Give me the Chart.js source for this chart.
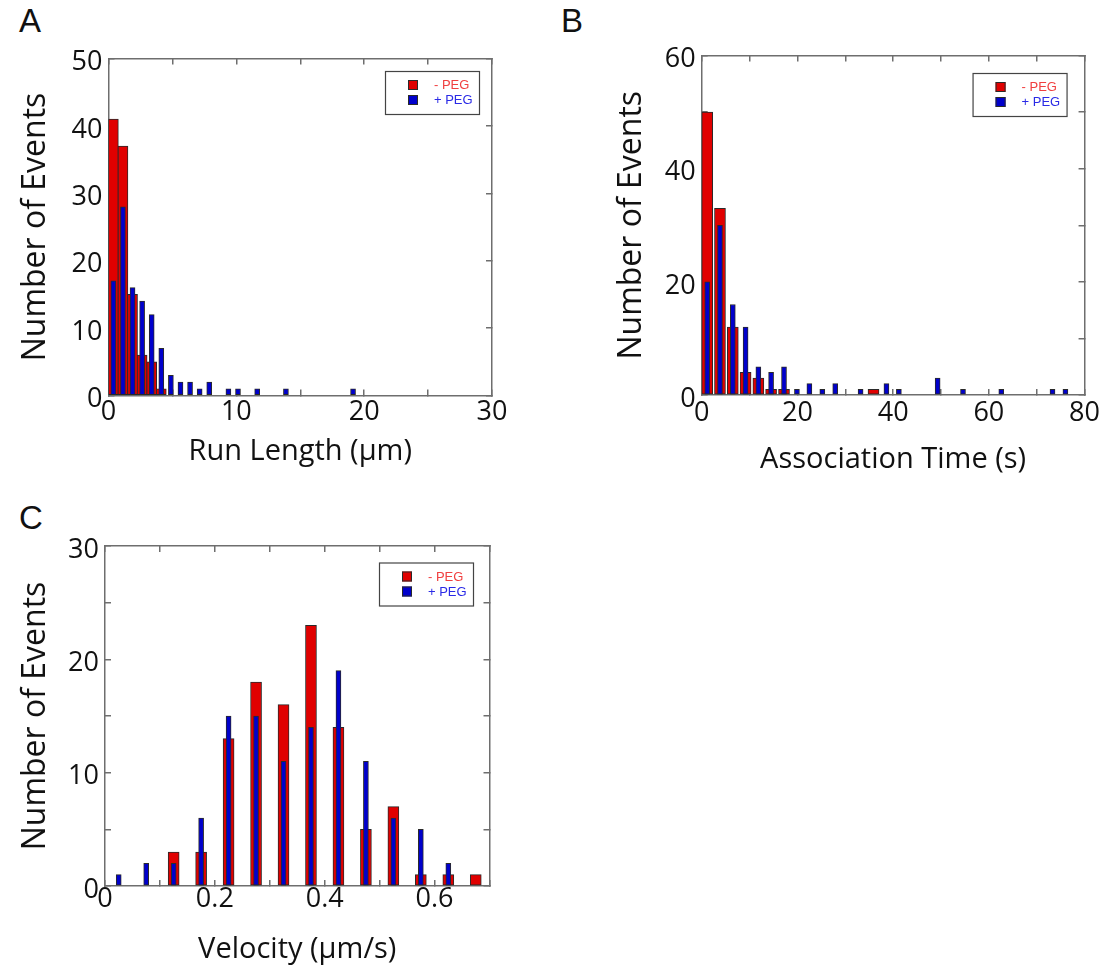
<!DOCTYPE html>
<html>
<head>
<meta charset="utf-8">
<script src="https://cdn.jsdelivr.net/npm/chart.js@4.4.1/dist/chart.umd.min.js"></script>
<style>
  body { margin: 0; background: #fff; }
  #wrap { position: relative; width: 1108px; height: 971px; }
  canvas { position: absolute; }
  .panel { position: absolute; font-family: "Liberation Sans", Arial, sans-serif; font-size: 33px; line-height: 1; color: #111; }
</style>
</head>
<body>
<div id="wrap">
  <div class="panel" style="left:19px; top:4px;">A</div>
  <div class="panel" style="left:561px; top:4px;">B</div>
  <div class="panel" style="left:19px; top:501px;">C</div>
  <canvas id="chartA" width="554" height="480" style="left:0; top:0;"></canvas>
  <canvas id="chartB" width="554" height="480" style="left:554px; top:0;"></canvas>
  <canvas id="chartC" width="554" height="491" style="left:0; top:480px;"></canvas>
</div>
<script>
// run length histogram (um)
const runLenRedX = [0.38, 1.13, 1.88, 2.63, 3.38, 4.13];
const runLenRed = [41, 37, 15, 6, 5, 1];
const runLenBlueX = [0.38, 1.13, 1.88, 2.63, 3.38, 4.13, 4.88, 5.63, 6.38, 7.13, 7.88, 9.38, 10.13, 11.63, 13.88, 19.13];
const runLenBlue = [17, 28, 16, 14, 12, 7, 3, 2, 2, 1, 2, 1, 1, 1, 1, 1];

// association time histogram (s)
const assocRedX = [1.15, 3.82, 6.5, 9.17, 11.84, 14.5, 17.2, 35.9];
const assocRed = [50, 33, 12, 4, 3, 1, 1, 1];
const assocBlueX = [1.15, 3.82, 6.5, 9.17, 11.84, 14.5, 17.2, 19.9, 22.5, 25.2, 27.9, 33.2, 38.6, 41.2, 49.3, 54.6, 62.6, 73.3, 76.0];
const assocBlue = [20, 30, 16, 12, 5, 4, 5, 1, 2, 1, 2, 1, 2, 1, 3, 1, 1, 1, 1];

// velocity histogram (um/s)
const velX = [0.025, 0.075, 0.125, 0.175, 0.225, 0.275, 0.325, 0.375, 0.425, 0.475, 0.525, 0.575, 0.625, 0.675];
const velRed = [null, null, 3, 3, 13, 18, 16, 23, 14, 5, 7, 1, 1, 1];
const velBlue = [1, 2, 2, 6, 15, 15, 11, 14, 19, 11, 6, 5, 2, null];

const seriesLabels = ['- PEG', '+ PEG'];
const yTitle = 'Number of Events';

const RED = '#e00000';
const BLUE = '#0000cc';
const EDGE = '#2a2a2a';
const AXIS = '#6e6e6e';
const FONT = '"Open Sans", "DejaVu Sans", sans-serif';

// little boxed legend in the top right corner of the plot
const pegLegend = {
  id: 'pegLegend',
  afterDatasetsDraw(chart, args, opts) {
    const { ctx, chartArea } = chart;
    const w = 94, h = 43;
    const x = chartArea.right - opts.right - w;
    const y = chartArea.top + opts.top;
    ctx.save();
    ctx.fillStyle = '#fff';
    ctx.fillRect(x, y, w, h);
    ctx.strokeStyle = '#444';
    ctx.lineWidth = 1.2;
    ctx.strokeRect(x + 0.5, y + 0.5, w, h);
    const textCols = ['#f04040', '#2a2ae6'];
    chart.data.datasets.forEach((ds, i) => {
      const sy = y + 9 + i * 15;
      ctx.fillStyle = ds.backgroundColor;
      ctx.fillRect(x + 23, sy, 10, 10);
      ctx.strokeStyle = EDGE;
      ctx.lineWidth = 1;
      ctx.strokeRect(x + 23.5, sy + 0.5, 9, 9);
      ctx.fillStyle = textCols[i];
      ctx.font = '13px "Liberation Sans", Arial, sans-serif';
      ctx.textBaseline = 'middle';
      ctx.fillText(ds.label, x + 49, sy + 5.5);
    });
    ctx.restore();
  }
};

function histChart(id, o) {
  const grid = { drawOnChartArea: false, tickLength: -6, color: AXIS, lineWidth: 1.5, offset: false };
  const border = { color: AXIS, width: 1.5 };
  const tickFont = { family: FONT, size: 27, lineHeight: 1.2 };
  return new Chart(document.getElementById(id), {
    type: 'bar',
    data: {
      datasets: [
        {
          label: seriesLabels[0],
          data: o.redX.map((x, i) => ({ x: x, y: o.red[i] })),
          backgroundColor: RED, borderColor: EDGE, borderWidth: 1, borderSkipped: false,
          barThickness: o.redW, grouped: false, order: 2
        },
        {
          label: seriesLabels[1],
          data: o.blueX.map((x, i) => ({ x: x, y: o.blue[i] })),
          backgroundColor: BLUE, borderColor: EDGE, borderWidth: 1, borderSkipped: false,
          barThickness: 5, grouped: false, order: 1
        }
      ]
    },
    options: {
      responsive: false,
      animation: false,
      devicePixelRatio: 1,
      layout: { padding: o.pad },
      plugins: {
        legend: { display: false },
        tooltip: { enabled: false },
        pegLegend: o.legend
      },
      scales: {
        x: {
          type: 'linear', position: 'bottom', min: 0, max: o.xMax, offset: false,
          grid: grid, border: border,
          ticks: { stepSize: o.xStep, autoSkip: false, maxRotation: 0, padding: o.xPad,
                   font: tickFont, color: '#111', callback: o.xLabel },
          title: { display: true, text: o.xTitle, color: '#111',
                   font: { family: FONT, size: 29, lineHeight: 1.2 },
                   padding: { top: 0, bottom: o.xTitlePad } },
          afterFit: s => { s.height = o.xH; }
        },
        x2: {
          type: 'linear', position: 'top', min: 0, max: o.xMax, offset: false,
          grid: grid, border: border,
          ticks: { stepSize: o.xStep, autoSkip: false, display: false },
          afterFit: s => { s.height = 0; }
        },
        y: {
          type: 'linear', position: 'left', min: 0, max: o.yMax,
          grid: grid, border: border,
          ticks: { stepSize: o.yStep, padding: 12, labelOffset: 4, autoSkip: false,
                   font: tickFont, color: '#111', callback: o.yLabel },
          title: { display: true, text: yTitle, color: '#111',
                   font: { family: FONT, size: 32, lineHeight: 1.2 },
                   padding: { top: o.yTitlePad, bottom: 0 } },
          afterFit: s => { s.width = o.yW; }
        },
        y2: {
          type: 'linear', position: 'right', min: 0, max: o.yMax,
          grid: grid, border: border,
          ticks: { stepSize: o.yStep, autoSkip: false, display: false },
          afterFit: s => { s.width = 0; }
        }
      }
    },
    plugins: [pegLegend]
  });
}

histChart('chartA', {
  redX: runLenRedX, red: runLenRed, blueX: runLenBlueX, blue: runLenBlue, redW: 10,
  xMax: 30, xStep: 5, xLabel: v => (v % 10 === 0 ? v : ''), xTitle: 'Run Length (\u03bcm)',
  yMax: 50, yStep: 10, yLabel: v => v,
  pad: { top: 58.5, right: 62, left: 0, bottom: 0 },
  xH: 84.5, xPad: 7, xTitlePad: 10.5, yW: 108.5, yTitlePad: 17,
  legend: { right: 13, top: 12.5 }
});

histChart('chartB', {
  redX: assocRedX, red: assocRed, blueX: assocBlueX, blue: assocBlue, redW: 11,
  xMax: 80, xStep: 10, xLabel: v => (v % 20 === 0 ? v : ''), xTitle: 'Association Time (s)',
  yMax: 60, yStep: 10, yLabel: v => (v % 20 === 0 ? v : ''),
  pad: { top: 55.5, right: 22, left: 0, bottom: 0 },
  xH: 85, xPad: 8, xTitlePad: 3, yW: 147.7, yTitlePad: 59,
  legend: { right: 18, top: 17.5 }
});

histChart('chartC', {
  redX: velX, red: velRed, blueX: velX, blue: velBlue, redW: 11,
  xMax: 0.7, xStep: 0.1,
  xLabel: v => { const t = Math.round(v * 10); return t % 2 === 0 ? String(t / 10) : ''; },
  xTitle: 'Velocity (\u03bcm/s)',
  yMax: 30, yStep: 5, yLabel: v => (v % 10 === 0 ? v : ''),
  pad: { top: 66, right: 64.5, left: 0, bottom: 0 },
  xH: 85, xPad: 3, xTitlePad: 4, yW: 105, yTitlePad: 17,
  legend: { right: 16.5, top: 16.5 }
});
</script>
</body>
</html>
